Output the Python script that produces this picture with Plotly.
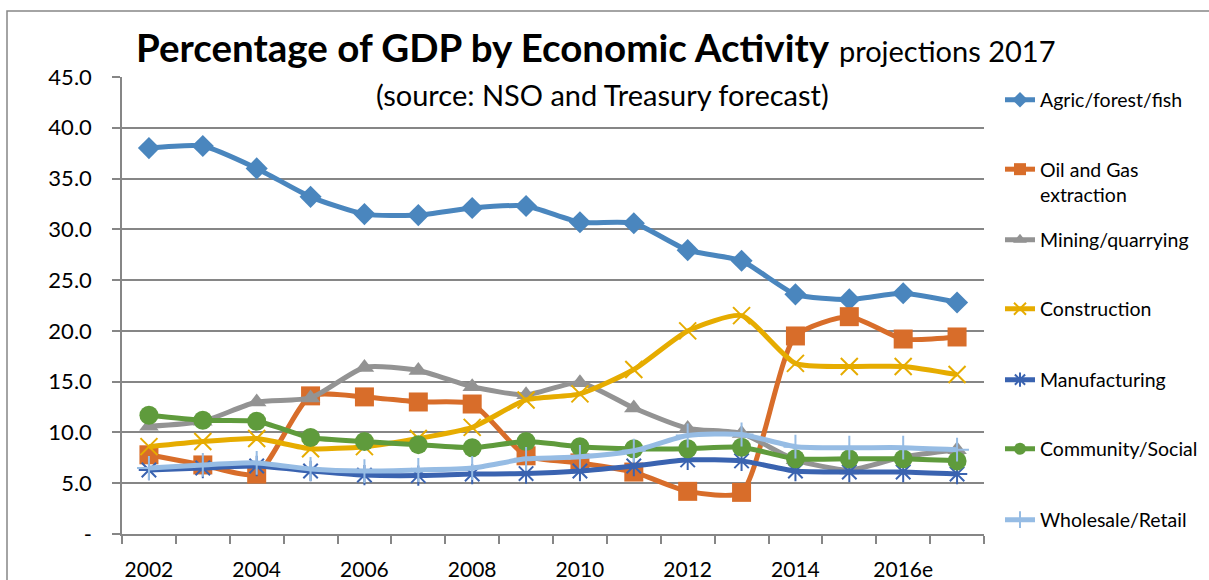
import plotly.graph_objects as go

years = ["2002", "2003", "2004", "2005", "2006", "2007", "2008", "2009",
         "2010", "2011", "2012", "2013", "2014", "2015", "2016e", "2017e"]
tick_labels = ["2002", "", "2004", "", "2006", "", "2008", "", "2010", "",
               "2012", "", "2014", "", "2016e", ""]

agric = [38.0, 38.2, 36.0, 33.2, 31.5, 31.4, 32.1, 32.3, 30.7, 30.6, 27.95, 26.9, 23.6, 23.1, 23.7, 22.8]
oil_gas = [7.8, 6.8, 5.9, 13.6, 13.5, 13.0, 12.8, 7.7, 7.0, 6.1, 4.2, 4.1, 19.5, 21.4, 19.2, 19.4]
mining = [10.6, 11.1, 13.0, 13.4, 16.4, 16.1, 14.5, 13.7, 14.9, 12.4, 10.4, 9.9, 7.3, 6.3, 7.6, 8.3]
construction = [8.6, 9.1, 9.4, 8.4, 8.6, 9.4, 10.5, 13.2, 13.8, 16.2, 20.0, 21.5, 16.8, 16.5, 16.5, 15.7]
manufacturing = [6.3, 6.5, 6.7, 6.2, 5.8, 5.75, 5.9, 5.95, 6.2, 6.7, 7.3, 7.2, 6.2, 6.1, 6.1, 5.9]
community = [11.7, 11.2, 11.1, 9.5, 9.1, 8.8, 8.5, 9.1, 8.6, 8.4, 8.4, 8.55, 7.4, 7.4, 7.4, 7.2]
wholesale = [6.5, 6.8, 7.0, 6.4, 6.2, 6.3, 6.5, 7.4, 7.6, 8.2, 9.7, 9.8, 8.6, 8.5, 8.5, 8.3]

names = ["Agric/forest/fish", "Oil and Gas<br>extraction", "Mining/quarrying", "Construction",
         "Manufacturing", "Community/Social", "Wholesale/Retail"]
series = [agric, oil_gas, mining, construction, manufacturing, community, wholesale]
colors = ["#4A86BE", "#D86D2A", "#939393", "#E6AC00", "#3A63B0", "#5F9B3C", "#96BCE4"]
symbols = ["diamond", "square", "triangle-up", "x-thin", "asterisk", "circle", "cross-thin"]
sizes = [17, 19, 17, 17, 17, 19, 17]
legend_centers_px = [100, 170, 240, 309, 380, 449, 520]

FONT = "Lato, 'Open Sans', sans-serif"
L, R, T, B = 122, 984, 77, 534
W, H = 1209, 580

def py(p):
    return (B - p) / (B - T)

def px(p):
    return (p - L) / (R - L)

fig = go.Figure()
for i, (nm, ys, c, s, sz) in enumerate(zip(names, series, colors, symbols, sizes)):
    thin = s in ("x-thin", "asterisk", "cross-thin")
    marker = dict(symbol=s, size=sz, color=c)
    if thin:
        marker["line"] = dict(color=c, width=2)
    else:
        marker["line"] = dict(width=0)
    fig.add_trace(go.Scatter(
        x=years, y=ys, name=nm, mode="lines+markers",
        line=dict(color=c, width=5, shape="spline", smoothing=0.6),
        marker=marker,
        legend="legend" if i == 0 else f"legend{i+1}",
    ))

legend_layout = {}
for i, cy in enumerate(legend_centers_px):
    key = "legend" if i == 0 else f"legend{i+1}"
    d = dict(x=px(1000), xanchor="left", bgcolor="rgba(0,0,0,0)",
             font=dict(family=FONT, size=19.5, color="black"),
             itemwidth=30, tracegroupgap=0, itemsizing="constant")
    if i == 1:
        d.update(y=py(cy - 20), yanchor="top", valign="top")
    else:
        d.update(y=py(cy), yanchor="middle")
    legend_layout[key] = d

fig.update_layout(
    width=W, height=H,
    margin=dict(l=L, r=W - R, t=T, b=H - B, autoexpand=False),
    plot_bgcolor="white", paper_bgcolor="white",
    font=dict(family=FONT, color="black", size=22),
    title=dict(
        text="<b>Percentage of GDP by Economic Activity</b> <span style='font-size:29px'>projections 2017</span>",
        x=136 / W, xanchor="left", xref="container",
        y=1 - 49 / H, yanchor="middle", yref="container",
        font=dict(family=FONT, size=38.5, color="black"),
    ),
    showlegend=True,
    **legend_layout,
)

fig.update_xaxes(
    type="category", categoryorder="array", categoryarray=years,
    range=[-0.5, len(years) - 0.5],
    tickmode="array", tickvals=years, ticktext=tick_labels, tickangle=0,
    tickson="boundaries", ticks="outside", ticklen=8, tickwidth=1.5, tickcolor="#868686",
    showline=True, linecolor="#868686", linewidth=1.5,
    showgrid=False, zeroline=False, automargin=False, ticklabelstandoff=16,
    tickfont=dict(family=FONT, size=21, color="black"),
)
fig.update_yaxes(
    range=[0, 45],
    tickmode="array", tickvals=[0, 5, 10, 15, 20, 25, 30, 35, 40, 45],
    ticktext=["-", "5.0", "10.0", "15.0", "20.0", "25.0", "30.0", "35.0", "40.0", "45.0"],
    ticks="outside", ticklen=8, tickwidth=1.5, tickcolor="#868686",
    showline=True, linecolor="#868686", linewidth=1.5,
    showgrid=True, gridcolor="#868686", gridwidth=1.5,
    zeroline=False, automargin=False, ticklabelstandoff=16,
    tickfont=dict(family=FONT, size=22, color="black"),
)

fig.add_annotation(
    text="(source: NSO and Treasury forecast)",
    xref="paper", yref="paper", x=px(602), y=py(95),
    xanchor="center", yanchor="middle", showarrow=False,
    font=dict(family=FONT, size=29, color="black"),
)

fig.add_shape(
    type="rect", xref="paper", yref="paper",
    x0=px(7), x1=px(1250), y0=py(640), y1=py(11),
    line=dict(color="#868686", width=1.5), fillcolor="rgba(0,0,0,0)", layer="below",
)

fig.write_html("out.html")
